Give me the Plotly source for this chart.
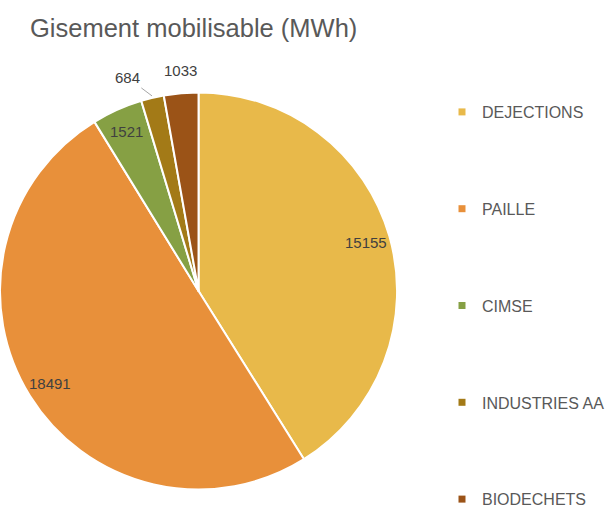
import math
import plotly.graph_objects as go

# Gisement mobilisable par filière (MWh)
categories = ["DEJECTIONS", "PAILLE", "CIMSE", "INDUSTRIES AA", "BIODECHETS"]
values = [15155, 18491, 1521, 684, 1033]
colors = ["#E8B94A", "#E8903A", "#86A044", "#A37A17", "#9B5317"]
label_inside = [True, True, True, False, False]

W, H = 609, 508
FONT = "Liberation Sans, Arial, sans-serif"

dom_x = [0.0, 0.652]
dom_y = [0.0295, 0.825]

fig = go.Figure()
fig.add_trace(go.Pie(
    labels=categories,
    values=values,
    sort=False,
    direction="clockwise",
    rotation=0,
    marker=dict(colors=colors, line=dict(color="white", width=2)),
    textinfo="none",
    hoverinfo="label+value+percent",
    showlegend=False,
    domain=dict(x=dom_x, y=dom_y),
))

# Legend entries (one group per category so they can be spaced apart)
for name, col in zip(categories, colors):
    fig.add_trace(go.Scatter(
        x=[None], y=[None], mode="markers", name=name,
        legendgroup=name,
        marker=dict(symbol="square", size=7, color=col),
    ))

# Data labels placed along each slice's mid angle
bw = (dom_x[1] - dom_x[0]) * W
bh = (dom_y[1] - dom_y[0]) * H
R = min(bw, bh) / 2
cx = (dom_x[0] + dom_x[1]) / 2 * W
cy = (1 - (dom_y[0] + dom_y[1]) / 2) * H  # pixels from top

label_font = dict(family=FONT, size=15, color="#404040")
total = sum(values)
cum = 0.0
annotations = []
for i, (v, inside) in enumerate(zip(values, label_inside)):
    mid = (cum + v / 2) / total * 2 * math.pi
    cum += v
    s, c = math.sin(mid), math.cos(mid)
    if inside:
        r = 0.88 * R
        px, py = cx + r * s, cy - r * c
        annotations.append(dict(
            x=px / W, y=1 - py / H, xref="paper", yref="paper",
            xanchor="center", yanchor="middle",
            text=str(v), showarrow=False, font=label_font,
        ))
    elif i == 3:
        r = R + 2
        px, py = cx + r * s, cy - r * c
        annotations.append(dict(
            x=px / W, y=1 - py / H, xref="paper", yref="paper",
            text=str(v), showarrow=True, arrowhead=0, arrowwidth=1,
            arrowcolor="#A6A6A6", ax=-24, ay=-18, standoff=0,
            font=label_font,
        ))
    else:
        r = R + 12
        px, py = cx + r * s, cy - r * c
        annotations.append(dict(
            x=px / W, y=1 - py / H, xref="paper", yref="paper",
            xanchor="center", yanchor="bottom",
            text=str(v), showarrow=False, font=label_font,
        ))

fig.update_layout(
    width=W, height=H,
    margin=dict(l=0, r=0, t=0, b=0, autoexpand=False),
    paper_bgcolor="white", plot_bgcolor="white",
    title=dict(
        text="Gisement mobilisable (MWh)",
        x=30 / W, xanchor="left", y=1 - 28 / H, yanchor="middle",
        font=dict(family=FONT, size=25.5, color="#595959"),
    ),
    xaxis=dict(visible=False), yaxis=dict(visible=False),
    legend=dict(
        x=442 / W, xanchor="left", y=1 - 95 / H, yanchor="top",
        font=dict(family=FONT, size=16, color="#595959"),
        tracegroupgap=73, itemwidth=30,
        bgcolor="rgba(0,0,0,0)",
    ),
    annotations=annotations,
)

fig.write_html("out.html")
